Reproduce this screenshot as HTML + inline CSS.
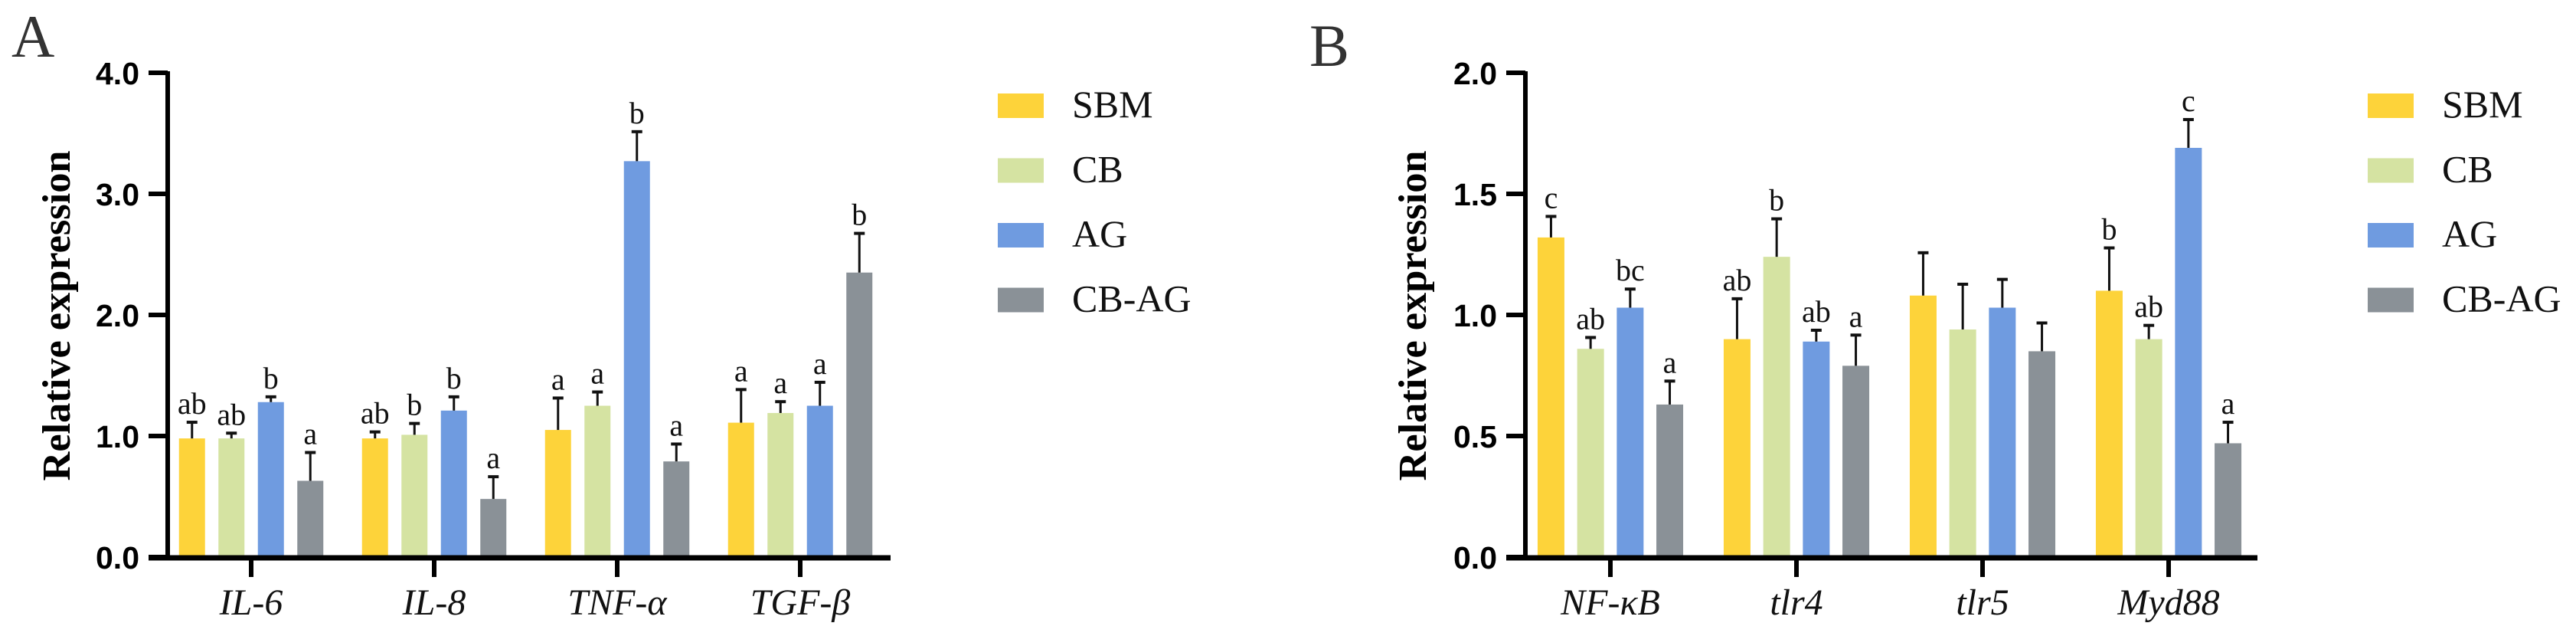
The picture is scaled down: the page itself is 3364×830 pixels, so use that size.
<!DOCTYPE html>
<html><head><meta charset="utf-8"><style>
html,body{margin:0;padding:0;background:#fff;}
svg{display:block;}
</style></head><body>
<svg id="chart" xmlns="http://www.w3.org/2000/svg" width="3364" height="830" viewBox="0 0 3364 830"></svg>
<script>
const seriesNames = ["SBM", "CB", "AG", "CB-AG"];
const seriesColors = ["#FDD33A", "#D5E3A2", "#6F9BE0", "#8A9197"];

const catsA = ["IL-6", "IL-8", "TNF-α", "TGF-β"];
const meanA = [[0.98, 0.98, 1.05, 1.11], [0.98, 1.01, 1.25, 1.19], [1.28, 1.21, 3.27, 1.25], [0.63, 0.48, 0.79, 2.35]];
const errA  = [[1.12, 1.04, 1.32, 1.39], [1.03, 1.11, 1.37, 1.29], [1.33, 1.33, 3.52, 1.45], [0.87, 0.67, 0.94, 2.68]];
const sigA  = [["ab", "ab", "a", "a"], ["ab", "b", "a", "a"], ["b", "b", "b", "a"], ["a", "a", "a", "b"]];
const ticksA = [0, 1, 2, 3, 4];
const tickLabelsA = ["0.0", "1.0", "2.0", "3.0", "4.0"];

const catsB = ["NF-κB", "tlr4", "tlr5", "Myd88"];
const meanB = [[1.32, 0.90, 1.08, 1.10], [0.86, 1.24, 0.94, 0.90], [1.03, 0.89, 1.03, 1.69], [0.63, 0.79, 0.85, 0.47]];
const errB  = [[1.41, 1.07, 1.26, 1.28], [0.91, 1.40, 1.13, 0.96], [1.11, 0.94, 1.15, 1.81], [0.73, 0.92, 0.97, 0.56]];
const sigB  = [["c", "ab", "", "b"], ["ab", "b", "", "ab"], ["bc", "ab", "", "c"], ["a", "a", "", "a"]];
const ticksB = [0, 0.5, 1, 1.5, 2];
const tickLabelsB = ["0.0", "0.5", "1.0", "1.5", "2.0"];

const NS = "http://www.w3.org/2000/svg";
const svg = document.getElementById("chart");
function mk(tag, attrs, parent) {
  const e = document.createElementNS(NS, tag);
  for (const k in attrs) e.setAttribute(k, attrs[k]);
  (parent || svg).appendChild(e);
  return e;
}

function panel(cfg) {
  const g = mk("g", {});
  
  
  const y = v => cfg.y0 - v / cfg.ymax * (cfg.y0 - cfg.yTop);
  const cx = i => cfg.cat0 + i * cfg.catStep;

  const letter = mk("text", {x: cfg.letterX, y: cfg.letterY, "font-family": "Liberation Serif, serif", "font-size": 78, fill: "#333"}, g);
  letter.textContent = cfg.letter;
  
  

  // bars
  for (let s = 0; s < 4; s++) {
    for (let i = 0; i < cfg.cats.length; i++) {
      const bx = cx(i) + (s - 1.5) * cfg.barStep;
      const top = y(cfg.mean[s][i]);
      const r = mk("rect", {x: bx - cfg.barW / 2, y: top, width: cfg.barW, height: cfg.y0 - top, fill: seriesColors[s]}, g);
      
      
      const et = y(cfg.err[s][i]);
      const el = mk("line", {x1: bx, x2: bx, y1: top, y2: et, stroke: "#111", "stroke-width": 3}, g);
      
      
      const cap = mk("line", {x1: bx - 7, x2: bx + 7, y1: et + 1, y2: et + 1, stroke: "#111", "stroke-width": 4}, g);
      
      
      if (cfg.sig[s][i]) {
        const t = mk("text", {x: bx, y: et - 10, "text-anchor": "middle", "font-family": "Liberation Serif, serif", "font-size": 40, fill: "#111"}, g);
        t.textContent = cfg.sig[s][i];
        
        
      }
    }
  }

  // axes
  const ya = mk("line", {x1: cfg.axX, x2: cfg.axX, y1: cfg.yTop - 2, y2: cfg.y0 + 3, stroke: "#000", "stroke-width": 6}, g);
  
  
  const xa = mk("line", {x1: cfg.axX - 25, x2: cfg.axEnd, y1: cfg.y0 + 1, y2: cfg.y0 + 1, stroke: "#000", "stroke-width": 7}, g);
  
  

  cfg.ticks.forEach((v, k) => {
    const ty = y(v);
    const tl = mk("line", {x1: cfg.axX - 25, x2: cfg.axX, y1: ty, y2: ty, stroke: "#000", "stroke-width": 6}, g);
    
    
    const t = mk("text", {x: cfg.axX - 37, y: ty + 15, "text-anchor": "end", "font-family": "Liberation Sans, sans-serif", "font-weight": "bold", "font-size": 41, fill: "#000"}, g);
    t.textContent = cfg.tickLabels[k];
    
    
  });

  cfg.cats.forEach((c, i) => {
    const tl = mk("line", {x1: cx(i), x2: cx(i), y1: cfg.y0, y2: cfg.y0 + 26, stroke: "#000", "stroke-width": 6}, g);
    
    
    const t = mk("text", {x: cx(i), y: 802, "text-anchor": "middle", "font-family": "Liberation Serif, serif", "font-style": "italic", "font-size": 48, fill: "#111"}, g);
    t.textContent = c;
    
    
  });

  const yt = mk("text", {x: 0, y: 0, transform: "translate(" + cfg.titleX + ",412) rotate(-90)", "text-anchor": "middle", "font-family": "Liberation Serif, serif", "font-weight": "bold", "font-size": 52, textLength: 431, lengthAdjust: "spacingAndGlyphs", fill: "#000"}, g);
  yt.textContent = "Relative expression";
  
  

  // legend
  const lg = mk("g", {}, g);
  
  
  seriesNames.forEach((n, s) => {
    const ly = 122 + s * 84.5;
    const r = mk("rect", {x: cfg.legX, y: ly, width: 60, height: 32, fill: seriesColors[s]}, lg);
    
    
    const t = mk("text", {x: cfg.legX + 97, y: ly + 31, "font-family": "Liberation Serif, serif", "font-size": 50, fill: "#111"}, lg);
    t.textContent = n;
    
    
  });
}

panel({name: "panel-a", letter: "A", letterX: 15, letterY: 74, cats: catsA, mean: meanA, err: errA, sig: sigA,
  ticks: ticksA, tickLabels: tickLabelsA, ymax: 4, y0: 727, yTop: 95, axX: 219, axEnd: 1163,
  cat0: 328, catStep: 239, barStep: 51.5, barW: 34, titleX: 91, legX: 1303});
panel({name: "panel-b", letter: "B", letterX: 1710, letterY: 86, cats: catsB, mean: meanB, err: errB, sig: sigB,
  ticks: ticksB, tickLabels: tickLabelsB, ymax: 2, y0: 727, yTop: 95, axX: 1992, axEnd: 2948,
  cat0: 2103, catStep: 243, barStep: 51.7, barW: 35, titleX: 1862, legX: 3092});
</script>
</body></html>
